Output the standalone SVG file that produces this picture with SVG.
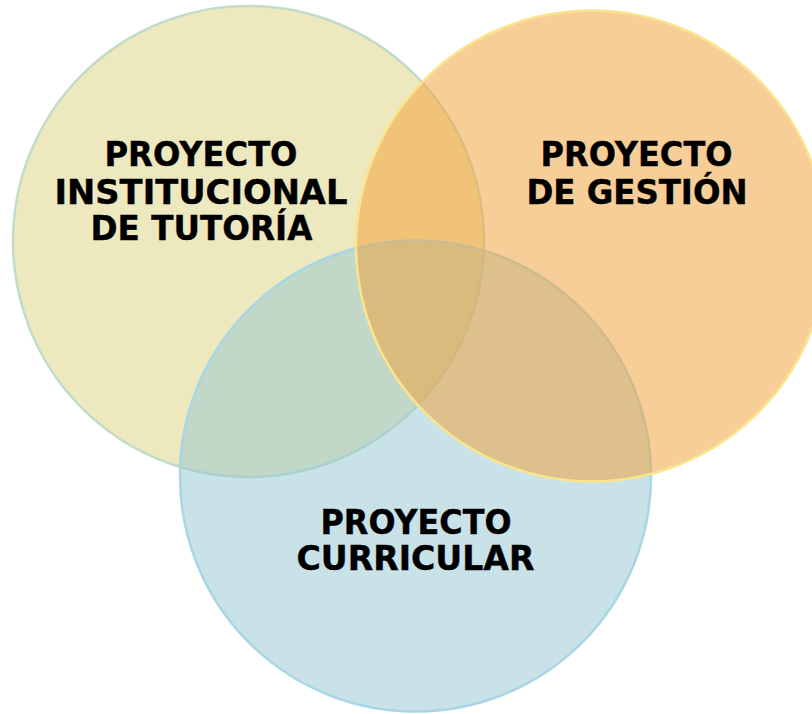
<svg xmlns="http://www.w3.org/2000/svg" width="812" height="714" viewBox="0 0 812 714">
  <style>
    .lbl { font-family: "DejaVu Sans", "Liberation Sans", sans-serif; font-weight: bold; font-size: 33px; fill: #000000; stroke: #000000; stroke-width: 0.4; text-anchor: middle; }
    .c-yellow { fill: #DDD17F; fill-opacity: 0.5; stroke: #C2DCC8; stroke-width: 2.5; }
    .c-blue { fill: #93C5D1; fill-opacity: 0.5; stroke: #A8D6E4; stroke-width: 2.5; }
    .c-orange { fill: #F2A23A; fill-opacity: 0.52; stroke: #FBE48E; stroke-width: 2.5; }
  </style>
  <rect width="812" height="714" fill="#FFFFFF"/>
  <g id="tutoria">
    <circle class="c-yellow" cx="248.5" cy="241.5" r="235.5"/>
  </g>
  <g id="curricular">
    <circle class="c-blue" cx="415.5" cy="476" r="235.5"/>
  </g>
  <g id="gestion">
    <circle class="c-orange" cx="591.5" cy="246" r="235.5"/>
  </g>
  <g id="connectors"/>
  <g id="labels">
    <text class="lbl" x="201" y="166" textLength="193" lengthAdjust="spacingAndGlyphs">PROYECTO</text>
    <text class="lbl" x="201" y="204" textLength="293" lengthAdjust="spacingAndGlyphs">INSTITUCIONAL</text>
    <text class="lbl" x="201.5" y="240" textLength="222" lengthAdjust="spacingAndGlyphs">DE TUTORÍA</text>
    <text class="lbl" x="636.5" y="166" textLength="192" lengthAdjust="spacingAndGlyphs">PROYECTO</text>
    <text class="lbl" x="637" y="204" textLength="221" lengthAdjust="spacingAndGlyphs">DE GESTIÓN</text>
    <text class="lbl" x="416" y="534" textLength="191" lengthAdjust="spacingAndGlyphs">PROYECTO</text>
    <text class="lbl" x="415.5" y="570" textLength="238" lengthAdjust="spacingAndGlyphs">CURRICULAR</text>
  </g>
</svg>
